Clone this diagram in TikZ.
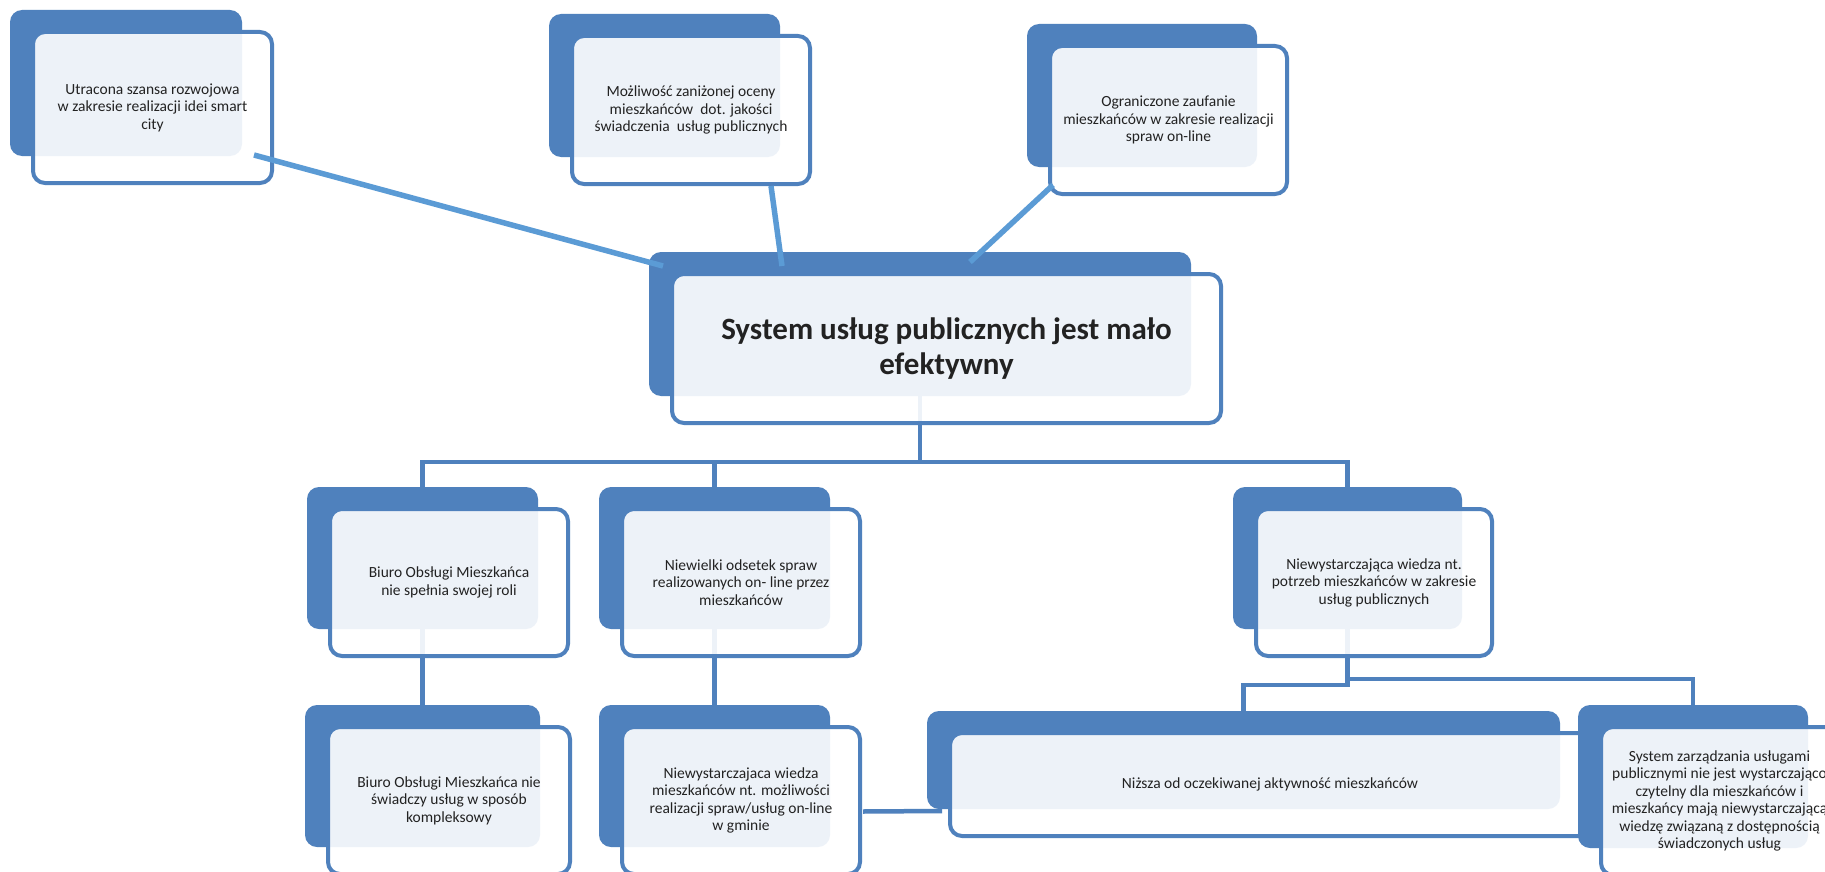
\documentclass[tikz,border=0pt]{standalone}
\usepackage{fontspec}
\setmainfont{Carlito}
\usetikzlibrary{calc}

\definecolor{boxblue}{HTML}{4F81BD}
\definecolor{linkblue}{HTML}{5B9BD5}
\definecolor{txt}{HTML}{222222}

\tikzset{
  backbox/.style={fill=boxblue, draw=none, rounded corners=12pt, inner sep=0pt, outer sep=0pt},
  frontbox/.style={fill=white, fill opacity=0.9, text opacity=1, draw=boxblue,
    line width=4pt, rounded corners=12pt, inner sep=0pt, outer sep=0pt},
  boxtext/.style={align=center, text=txt, inner sep=0pt, font=\fontsize{15.5}{17.5}\selectfont},
  titletext/.style={align=center, text=txt, inner sep=0pt, font=\fontsize{31}{35}\selectfont\bfseries},
  tree/.style={draw=boxblue, line width=4.5pt},
  link/.style={draw=linkblue, line width=5.5pt},
}

% back plate of a box: name, x1, y1, x2, y2
\newcommand{\mkback}[5]{%
  \node[backbox, minimum width={#4-#2}, minimum height={#5-#3}]
    (#1-b) at ({(#2+#4)/2},{(#3+#5)/2}) {};}
% front card, shifted against its back plate: name, x1, y1, x2, y2 (of the plate)
\newcommand{\mkfront}[5]{%
  \node[frontbox, minimum width={#4-#2+7}, minimum height={#5-#3+5}]
    (#1) at ({(#2+#4)/2+26.5},{(#3+#5)/2+24.5}) {};}

\begin{document}
\begin{tikzpicture}[x=1pt, y=-1pt]
\useasboundingbox (0,0) rectangle (1825,872);
\clip (0,0) rectangle (1825,872);
\fill[white] (0,0) rectangle (1825,872);

% back plates
\mkback{u1}{10}{10}{242}{156}
\mkback{u2}{549}{14}{780}{157}
\mkback{u3}{1027}{24}{1257}{167}
\mkback{core}{649}{252}{1191}{396}
\mkback{a}{307}{487}{538}{629}
\mkback{b}{599}{487}{830}{629}
\mkback{c}{1233}{487}{1462}{629}
\mkback{d}{305}{705}{540}{847}
\mkback{e}{599}{705}{830}{847}
\mkback{f}{927}{711}{1560}{809}

% tree of causes below the central problem
\coordinate (j0) at (920,462);
\draw[tree] (core-b.south) -- (j0);
\draw[tree] (a-b.north) |- (j0);
\draw[tree] (b-b.north) |- (j0);
\draw[tree] (c-b.north) |- (j0);
\draw[tree] (a-b.south) -- (d-b.north);
\draw[tree] (b-b.south) -- (e-b.north);
\draw[tree] (c-b.south) -- ++(0,56) -| (f-b.north);
\draw[tree] (c-b.south) -- ++(0,50) -| (1693,705);

% front cards
\mkfront{u1}{10}{10}{242}{156}
\mkfront{u2}{549}{14}{780}{157}
\mkfront{u3}{1027}{24}{1257}{167}
\mkfront{core}{649}{252}{1191}{396}
\mkfront{a}{307}{487}{538}{629}
\mkfront{b}{599}{487}{830}{629}
\mkfront{c}{1233}{487}{1462}{629}
\mkfront{d}{305}{705}{540}{847}
\mkfront{e}{599}{705}{830}{847}
\mkfront{f}{927}{711}{1560}{809}
\draw[tree] ($(e.east)+(3,11)$) -- ($(f-b.south west)+(15,2)$);

\mkback{g}{1578}{705}{1808}{848}
\mkfront{g}{1578}{705}{1808}{848}

% texts
\node[boxtext] (u1-t) at (u1.center) {Utracona szansa rozwojowa\\w zakresie realizacji idei smart\\city};
\node[boxtext] (u2-t) at (u2.center) {Możliwość zaniżonej oceny\\mieszkańców \ dot. jakości\\świadczenia \ usług publicznych};
\node[boxtext] (u3-t) at (u3.center) {Ograniczone zaufanie\\mieszkańców w zakresie realizacji\\spraw on-line};
\node[titletext] (core-t) at (core.center) {System usług publicznych jest mało\\efektywny};
\node[boxtext] (a-t) at (a.center) {Biuro Obsługi Mieszkańca\\nie spełnia swojej roli};
\node[boxtext] (b-t) at (b.center) {Niewielki odsetek spraw\\realizowanych on- line przez\\mieszkańców};
\node[boxtext] (c-t) at (c.center) {Niewystarczająca wiedza nt.\\potrzeb mieszkańców w zakresie\\usług publicznych};
\node[boxtext] (d-t) at (d.center) {Biuro Obsługi Mieszkańca nie\\świadczy usług w sposób\\kompleksowy};
\node[boxtext] (e-t) at (e.center) {Niewystarczajaca wiedza\\mieszkańców nt. możliwości\\realizacji spraw/usług on-line\\w gminie};
\node[boxtext] (f-t) at (f.center) {Niższa od oczekiwanej aktywność mieszkańców};
\node[boxtext] (g-t) at (g.center) {System zarządzania usługami\\publicznymi nie jest wystarczająco\\czytelny dla mieszkańców i\\mieszkańcy mają niewystarczającą\\wiedzę związaną z dostępnością\\świadczonych usług};

% effects above the central problem
\coordinate (l1a) at (254,155); \coordinate (l1b) at (663,266);
\coordinate (l2a) at (771,186); \coordinate (l2b) at (782,266);
\coordinate (l3a) at (1053,185); \coordinate (l3b) at (970,262);
\draw[link] (l1a) -- (l1b);
\draw[link] (l2a) -- (l2b);
\draw[link] (l3a) -- (l3b);
\end{tikzpicture}
\end{document}
